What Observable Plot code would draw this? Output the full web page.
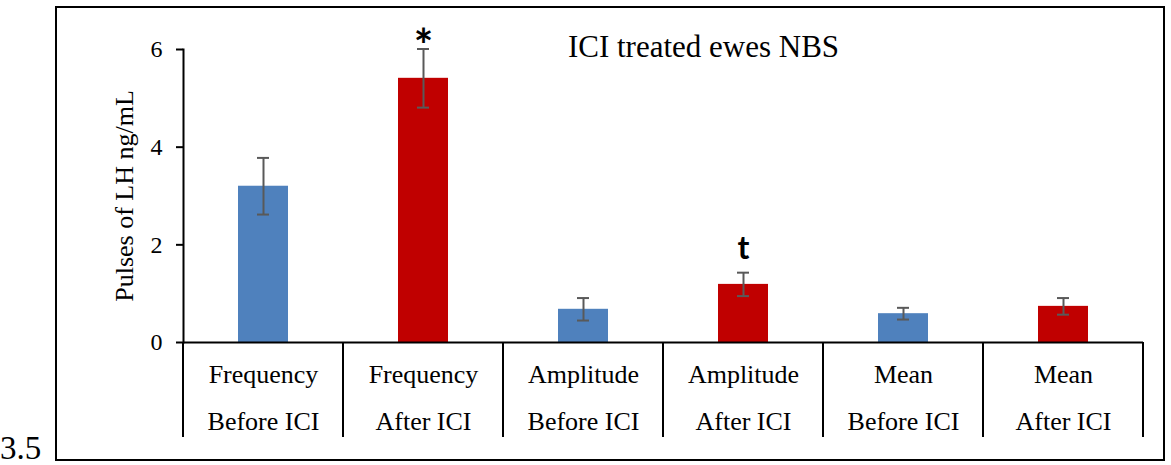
<!DOCTYPE html>
<html>
<head>
<meta charset="utf-8">
<script src="https://cdn.jsdelivr.net/npm/d3@7"></script>
<script src="https://cdn.jsdelivr.net/npm/@observablehq/plot@0.6"></script>
<style>
  html, body { margin: 0; padding: 0; background: #fff; }
  #wrap { position: relative; width: 1171px; height: 465px; overflow: hidden; }
  #border { position: absolute; left: 55px; top: 6px; width: 1110px; height: 455px; box-sizing: border-box; border: 2px solid #000; pointer-events: none; }
  #stray { position: absolute; left: 0px; top: 434px; font-family: "Liberation Serif", "Times New Roman", serif; font-size: 33px; line-height: 28px; color: #000; }
</style>
</head>
<body>
<div id="wrap">
  <div id="chart"></div>
  <div id="border"></div>
  <div id="stray">3.5</div>
</div>
<script>
// ---- data ----
const params = ["Frequency", "Frequency", "Amplitude", "Amplitude", "Mean", "Mean"];
const phases = ["Before ICI", "After ICI", "Before ICI", "After ICI", "Before ICI", "After ICI"];
const values = [3.2, 5.41, 0.68, 1.19, 0.59, 0.74];
const errors = [0.58, 0.6, 0.23, 0.24, 0.12, 0.17];
const significance = ["", "*", "", "t", "", ""];
const yTicks = [0, 2, 4, 6];
const title = "ICI treated ewes NBS";
const yLabel = "Pulses of LH ng/mL";
const phaseOrder = ["Before ICI", "After ICI"];
const phaseColors = ["#4F81BD", "#C00000"];

const keys = params.map((p, i) => `${p}|${phases[i]}`);
const data = keys.map((k, i) => ({
  key: k, param: params[i], phase: phases[i],
  value: values[i], err: errors[i], sig: significance[i]
}));

const serif = "'Liberation Serif', 'Times New Roman', serif";
const sans = "Lato, 'Liberation Sans', sans-serif";
const errColor = "#595959";

const plot = Plot.plot({
  width: 1171,
  height: 465,
  marginLeft: 183,
  marginRight: 28,
  marginTop: 49,
  marginBottom: 123,
  style: { fontFamily: serif, color: "#000", background: "transparent" },
  x: { type: "band", domain: keys, paddingInner: 0.6875, paddingOuter: 0.34375, axis: null },
  y: { domain: [0, 6], axis: null },
  color: { domain: phaseOrder, range: phaseColors },
  marks: [
    Plot.barY(data, { x: "key", y: "value", fill: "phase" }),
    Plot.ruleX(data, { x: "key", y1: d => d.value - d.err, y2: d => d.value + d.err, stroke: errColor, strokeWidth: 2 }),
    Plot.tickY(data, { x: "key", y: d => d.value + d.err, stroke: errColor, strokeWidth: 2, insetLeft: 19, insetRight: 19 }),
    Plot.tickY(data, { x: "key", y: d => d.value - d.err, stroke: errColor, strokeWidth: 2, insetLeft: 19, insetRight: 19 }),
    Plot.ruleY([0], { stroke: "#000", strokeWidth: 2 }),
    Plot.frame({ anchor: "left", stroke: "#000", strokeWidth: 2 }),
    Plot.axisY({ ticks: yTicks, tickFormat: d => String(d), tickSize: 7, tickPadding: 14, fontSize: 24, fontFamily: serif, label: null, strokeWidth: 2 }),
    Plot.axisX({ tickSize: 0, tickPadding: 22.5, fontSize: 26, fontFamily: serif, label: null, tickFormat: k => k.split("|")[0] }),
    Plot.axisX({ tickSize: 0, tickPadding: 69.5, fontSize: 26, fontFamily: serif, label: null, tickFormat: k => k.split("|")[1] }),
    Plot.text(data.filter(d => d.sig === "*"), {
      x: "key", y: d => d.value + d.err, text: "sig",
      fontFamily: sans, fontWeight: "bold", fontSize: 46,
      lineAnchor: "middle", dy: -2
    }),
    Plot.text(data.filter(d => d.sig && d.sig !== "*"), {
      x: "key", y: d => d.value + d.err, text: "sig",
      fontFamily: sans, fontWeight: "bold", fontSize: 32,
      lineAnchor: "middle", dy: -24
    }),
    Plot.text([title], { frameAnchor: "top", dx: 40, dy: -2, fontSize: 31, fontFamily: serif, lineAnchor: "middle" }),
    Plot.text([yLabel], { frameAnchor: "left", rotate: -90, dx: -59, fontSize: 26, fontFamily: serif, lineAnchor: "middle", textAnchor: "middle" })
  ]
});

// category table dividers, positioned from the library's own x/y scales
const xs = plot.scale("x");
const ys = plot.scale("y");
const gap = (xs.step - xs.bandwidth) / 2;
const bounds = keys.map(k => xs.apply(k) - gap);
bounds.push(xs.apply(keys[keys.length - 1]) + xs.bandwidth + gap);
const y0 = ys.apply(0);
d3.select(plot).append("g")
  .selectAll("line").data(bounds).join("line")
  .attr("x1", d => d).attr("x2", d => d)
  .attr("y1", y0).attr("y2", y0 + 95)
  .attr("stroke", "#000").attr("stroke-width", 2);

document.getElementById("chart").appendChild(plot);
</script>
</body>
</html>
